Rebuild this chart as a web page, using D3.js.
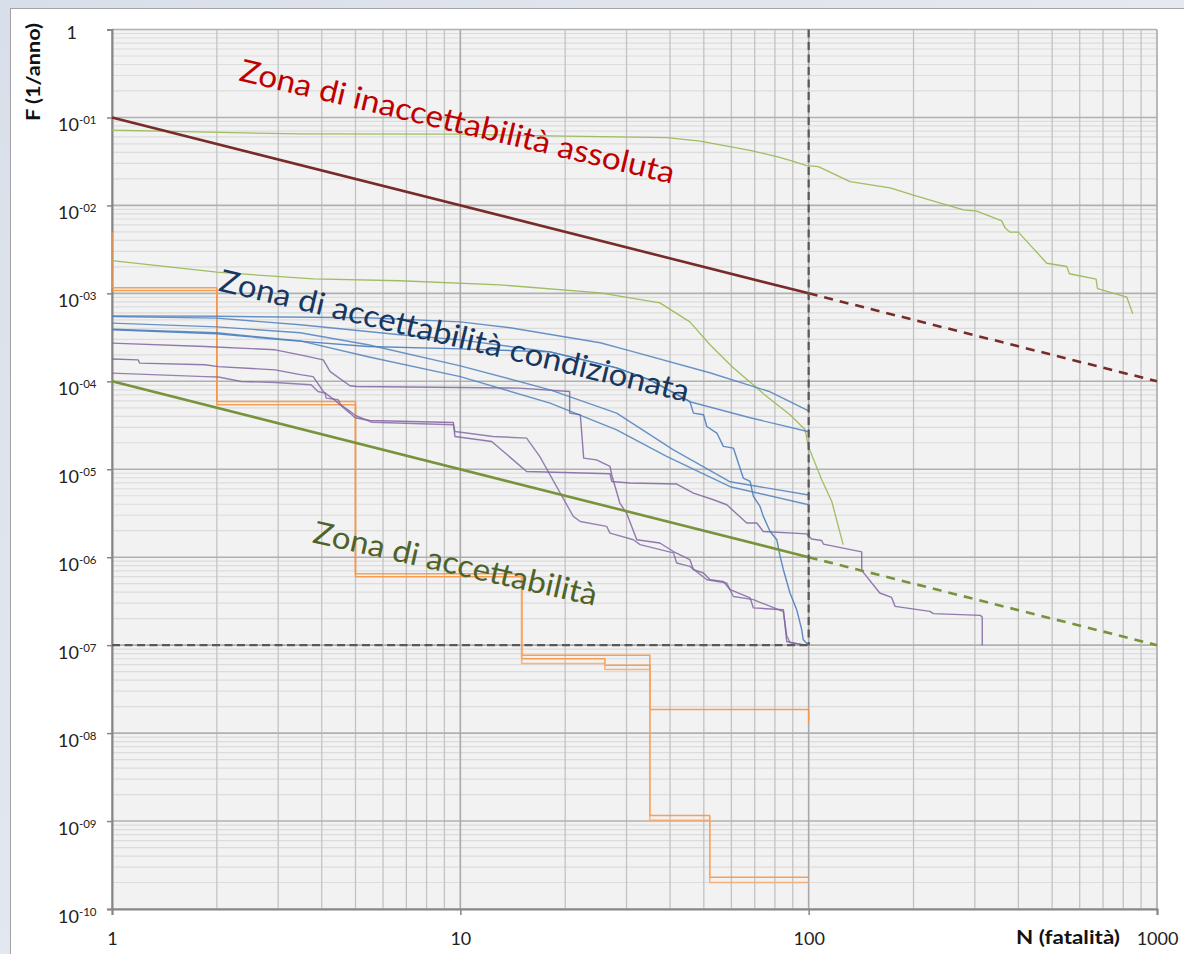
<!DOCTYPE html>
<html>
<head>
<meta charset="utf-8">
<script src="https://cdn.jsdelivr.net/npm/d3@7"></script>
<style>
  html, body { margin: 0; padding: 0; }
  body { width: 1184px; height: 954px; overflow: hidden; background: linear-gradient(135deg, #d9dfea 0%, #e6eaf1 60%, #eef0f4 100%); }
  svg { display: block; }
  text { font-family: Lato, "Open Sans", "Noto Sans", sans-serif; }
</style>
</head>
<body>
<svg id="chart" width="1184" height="954"></svg>
<script>
// ---- axis ticks ----
const nTicks = [1, 10, 100, 1000];
const nTickLabels = ["1", "10", "100", "1000"];
const fExponents = [0, -1, -2, -3, -4, -5, -6, -7, -8, -9, -10];

// ---- acceptance criteria (F-N limit lines) ----
const upperLimit = [[1, 1e-1], [100, 1e-3]];
const upperLimitExt = [[100, 1e-3], [1000, 1e-4]];
const lowerLimit = [[1, 1e-4], [100, 1e-6]];
const lowerLimitExt = [[100, 1e-6], [1000, 1e-7]];
const boundN = [[100, 1], [100, 1e-7]];
const boundF = [[1, 1e-7], [100, 1e-7]];

// ---- F-N curves: [N, F] ----
const green1 = [[1,0.0716],[3.47,0.0649],[10,0.0645],[18.1,0.0616],[39.2,0.059],[48.8,0.0537],[67.9,0.0422],[81,0.0358],[89.4,0.032],[98.7,0.0283],[106.6,0.0276],[131.5,0.01865],[171.3,0.0158],[199.8,0.01306],[278,0.0089],[303.9,0.0086],[358.4,0.00667],[366.4,0.00555],[378.7,0.00496],[400,0.00496],[482.6,0.0022],[550.8,0.00202],[560.4,0.00167],[668.6,0.00145],[674.5,0.00113],[819,9.06e-4],[852,5.85e-4]];
const green2 = [[1,2.36e-3],[2,1.74e-3],[3.78,1.46e-3],[6.71,1.39e-3],[13,1.25e-3],[25.2,1.01e-3],[37.4,7.8e-4],[45.6,4.74e-4],[52.1,2.6e-4],[60.2,1.47e-4],[75.8,6.7e-5],[88.4,4.16e-5],[97.7,2.81e-5],[99.8,1.82e-5],[109,7.6e-6],[116.5,4.3e-6],[125.6,1.39e-6]];

const blue1 = [[1,5.55e-4],[2,5.48e-4],[5.4,5.27e-4],[10,4.74e-4],[13.9,4.06e-4],[25.2,2.74e-4],[30,2.28e-4],[52,1.25e-4],[77.5,7.6e-5],[100,4.6e-5]];
const blue2 = [[1,5.45e-4],[2,5.23e-4],[3.47,4.39e-4],[6.71,3.38e-4],[10,2.96e-4],[18.1,2.16e-4],[28.1,1.42e-4],[35,1.04e-4],[45.6,5.85e-5],[67.9,3.85e-5],[100,2.67e-5]];
const blue3 = [[1,4.59e-4],[2,4.16e-4],[3.47,3.56e-4],[5.43,2.6e-4],[10,1.5e-4],[18.1,8.0e-5],[28.1,4.35e-5],[40.8,1.67e-5],[59.5,7.2e-6],[100,5.1e-6]];
const blue4 = [[1,3.92e-4],[2,3.56e-4],[3.47,2.88e-4],[5.43,1.9e-4],[10,1.13e-4],[18.1,5.65e-5],[28.1,2.81e-5],[39.1,1.4e-5],[59.5,6.33e-6],[100,3.95e-6]];
const blue5 = [[1,3.85e-4],[2,3.47e-4],[3.1,2.96e-4],[5.43,2.49e-4],[10,2.34e-4],[18.1,2.16e-4],[28.1,1.42e-4],[35,1.04e-4],[45.6,5.9e-5],[46.7,4.35e-5],[49.9,4.16e-5],[51,3.06e-5],[54.5,2.58e-5],[56.9,1.82e-5],[60.8,1.74e-5],[64.9,7.94e-6],[67.9,7.27e-6],[69.4,4.91e-6],[72.5,3.78e-6],[74.1,2.91e-6],[77.5,1.96e-6],[81,1.58e-6],[82.8,1.02e-6],[84.6,7.21e-7],[88.4,3.92e-7],[92.4,2.53e-7],[95.5,1.5e-7],[96.5,1.15e-7],[100,1e-7]];

const purple1 = [[1,2.72e-4],[1.85,2.49e-4],[2.94,2.28e-4],[3.47,2.0e-4],[4.04,1.75e-4],[4.23,1.29e-4],[4.82,8.89e-5],[5.04,8.73e-5],[14.8,8.37e-5],[20.6,7.66e-5],[20.6,4.35e-5],[22.1,4.16e-5],[22.6,1.34e-5],[24.6,1.28e-5],[26.9,1.08e-5],[27.2,8.66e-6],[28.7,4.13e-6],[30,3.18e-6],[32.1,1.58e-6],[37.4,1.45e-6],[40.9,1.16e-6],[45.6,9.37e-7],[46.7,7.21e-7],[49.9,6.61e-7],[52.1,5.55e-7],[56.9,5.31e-7],[59.5,4.27e-7],[67.9,3.44e-7],[69.4,2.65e-7],[84.6,2.53e-7],[86.5,1.1e-7],[96.5,1.0e-7]];
const purple2 = [[1,1.79e-4],[1.19,1.75e-4],[1.2,1.61e-4],[1.85,1.54e-4],[2.02,1.47e-4],[2.94,1.35e-4],[3.47,1.19e-4],[3.78,1.13e-4],[4.04,7.66e-5],[4.32,6.28e-5],[4.82,4.35e-5],[4.99,3.85e-5],[5.5,3.58e-5],[9.55,3.4e-5],[9.65,2.36e-5],[12.3,2.07e-5],[15.5,9.44e-6],[26.9,8.89e-6],[27.2,7.27e-6],[30.7,6.97e-6],[41.8,6.79e-6],[46.7,5.36e-6],[53.3,4.5e-6],[58.2,3.95e-6],[66.4,2.45e-6],[71,2.45e-6],[74.1,1.96e-6],[98.7,1.84e-6],[102,1.61e-6],[109,1.55e-6],[110.2,1.41e-6],[142,1.15e-6],[142,7.08e-7],[160,3.92e-7],[173,3.49e-7],[177,2.76e-7],[223,2.42e-7],[228,2.28e-7],[311,2.18e-7],[315,2.09e-7],[315,1e-7]];
const purple3 = [[1,1.24e-4],[1.85,1.13e-4],[2.02,1.12e-4],[2.35,9.95e-5],[2.94,9.69e-5],[3.73,9.12e-5],[3.9,7.66e-5],[4.09,7.35e-5],[4.12,6.44e-5],[4.46,6.16e-5],[4.54,5.41e-5],[4.76,4.74e-5],[5.02,4.06e-5],[5.58,3.42e-5],[9.55,3.2e-5],[9.65,2.69e-5],[12.4,2.36e-5],[15.5,2.26e-5],[16.9,1.4e-5],[21.1,2.91e-6],[22.1,2.55e-6],[26.3,2.24e-6],[26.9,1.88e-6],[31.4,1.58e-6],[32.8,1.39e-6],[40.9,1.12e-6],[41.8,8.6e-7],[45.6,7.86e-7],[51,5.55e-7],[58.2,5.09e-7],[60.8,3.58e-7],[69.4,3.29e-7],[84.6,2.4e-7],[86.5,1.28e-7],[88.4,1.07e-7],[98.7,1e-7]];

const orange1 = [[1,5e-3],[1,1.16e-3],[2,1.16e-3],[2,5.9e-5],[5,5.9e-5],[5,6.5e-7],[15,6.5e-7],[15,7.7e-8],[35,7.7e-8],[35,1.85e-8],[100,1.85e-8],[100,1.3e-8]];
const orange2 = [[1,1.08e-3],[2,1.08e-3],[2,5.4e-5],[5,5.4e-5],[5,6.0e-7],[15,6.0e-7],[15,7.0e-8],[26,7.0e-8],[26,5.9e-8],[35,5.9e-8],[35,1.16e-9],[52,1.16e-9],[52,2.3e-10],[100,2.3e-10]];
const orange3 = [[15,6.0e-7],[15,6.2e-8],[26,6.2e-8],[26,5.3e-8],[35,5.3e-8],[35,1.02e-9],[52,1.02e-9],[52,2.0e-10],[100,2.0e-10]];

// ---- zone labels: text, anchor [N, F] of baseline start ----
const zoneTexts = ["Zona di inaccettabilità assoluta", "Zona di accettabilità condizionata", "Zona di accettabilità"];
const zoneAnchors = [[2.30, 0.264], [2.01, 1.08e-3], [3.74, 1.48e-6]];

// ---- layout ----
const W = 1184, H = 954;
const plot = { left: 112, right: 1157, top: 29.5, bottom: 909 };

const svg = d3.select("#chart");

const x = d3.scaleLog().domain([1, 1000]).range([plot.left, plot.right]);
const y = d3.scaleLog().domain([1e-10, 1]).range([plot.bottom, plot.top]);

// white chart panel
svg.append("rect")
  .attr("x", 10.5).attr("y", 8.5).attr("width", W).attr("height", H)
  .attr("fill", "#ffffff").attr("stroke", "#a3a3a3").attr("stroke-width", 1);

// plot background
svg.append("rect")
  .attr("x", plot.left).attr("y", plot.top)
  .attr("width", plot.right - plot.left).attr("height", plot.bottom - plot.top)
  .attr("fill", "#f2f2f2");

const isDecade = v => Math.abs(Math.log10(v) - Math.round(Math.log10(v))) < 1e-9;

// grid
const gGrid = svg.append("g");
const yGridVals = y.ticks(30);
const xGridVals = x.ticks(30);

gGrid.selectAll("line.hminor").data(yGridVals.filter(v => !isDecade(v))).join("line")
  .attr("x1", plot.left).attr("x2", plot.right)
  .attr("y1", d => y(d)).attr("y2", d => y(d))
  .attr("stroke", "#dcdcdc").attr("stroke-width", 1.2);

gGrid.selectAll("line.vminor").data(xGridVals.filter(v => !isDecade(v))).join("line")
  .attr("x1", d => x(d)).attr("x2", d => x(d))
  .attr("y1", plot.top).attr("y2", plot.bottom)
  .attr("stroke", "#c3c3c3").attr("stroke-width", 1.3);

gGrid.selectAll("line.hmajor").data(yGridVals.filter(isDecade)).join("line")
  .attr("x1", plot.left).attr("x2", plot.right)
  .attr("y1", d => y(d)).attr("y2", d => y(d))
  .attr("stroke", "#b0b0b0").attr("stroke-width", 1.6);

gGrid.selectAll("line.vmajor").data(xGridVals.filter(isDecade)).join("line")
  .attr("x1", d => x(d)).attr("x2", d => x(d))
  .attr("y1", plot.top).attr("y2", plot.bottom)
  .attr("stroke", "#a9a9a9").attr("stroke-width", 1.6);

// axes
const fTickValues = fExponents.map(e => Math.pow(10, e));
const yAxis = d3.axisLeft(y).tickValues(fTickValues).tickSize(5).tickFormat(() => "");
const gY = svg.append("g").attr("transform", `translate(${plot.left},0)`).call(yAxis);
gY.select(".domain").attr("stroke", "#868686").attr("stroke-width", 2);
gY.selectAll(".tick line").attr("stroke", "#868686").attr("stroke-width", 1.5);
gY.selectAll(".tick text").remove();
gY.selectAll(".tick").each(function(d, i) {
  const g = d3.select(this);
  const e = fExponents[i];
  if (e === 0) {
    g.append("text").attr("x", -35).attr("y", 9).attr("text-anchor", "end")
      .attr("fill", "#222").style("font-size", "18px").text("1");
  } else {
    const t = g.append("text").attr("x", -54).attr("y", 13.5).attr("text-anchor", "start")
      .attr("fill", "#222").style("font-size", "18px");
    t.append("tspan").text("10");
    const s = "-" + String(Math.abs(e)).padStart(2, "0");
    t.append("tspan").attr("dy", -7.5).style("font-size", "11.5px").text(s);
  }
});

const xAxis = d3.axisBottom(x).tickValues(nTicks).tickSize(6).tickFormat(() => "");
const gX = svg.append("g").attr("transform", `translate(0,${plot.bottom})`).call(xAxis);
gX.select(".domain").attr("stroke", "#868686").attr("stroke-width", 2);
gX.selectAll(".tick line").attr("stroke", "#868686").attr("stroke-width", 1.5);
gX.selectAll(".tick text").remove();
gX.selectAll(".tick").append("text")
  .attr("y", 36).attr("text-anchor", "middle")
  .attr("fill", "#222").style("font-size", "18px")
  .text((d, i) => nTickLabels[i]);

// axis titles
svg.append("text")
  .attr("transform", "translate(40,72) rotate(-90)")
  .attr("text-anchor", "middle")
  .attr("textLength", 98).attr("lengthAdjust", "spacingAndGlyphs")
  .style("font-size", "18px").style("font-weight", "bold").attr("fill", "#111")
  .text("F (1/anno)");

svg.append("text")
  .attr("x", 1016).attr("y", 944)
  .attr("textLength", 104).attr("lengthAdjust", "spacingAndGlyphs")
  .style("font-size", "18px").style("font-weight", "bold").attr("fill", "#111")
  .text("N (fatalità)");

// curves
const line = d3.line().x(d => x(d[0])).y(d => y(d[1]));
const gCurves = svg.append("g").attr("fill", "none").attr("stroke-linejoin", "round");

const series = [
  { data: orange1, color: "#f79646", w: 1.5, o: 0.9 },
  { data: orange2, color: "#f79646", w: 1.5, o: 0.9 },
  { data: orange3, color: "#f9a86a", w: 1.5, o: 0.85 },
  { data: green1, color: "#9bbb59", w: 1.3, o: 0.95 },
  { data: green2, color: "#9bbb59", w: 1.3, o: 0.95 },
  { data: purple1, color: "#8064a2", w: 1.4, o: 0.85 },
  { data: purple2, color: "#8064a2", w: 1.4, o: 0.85 },
  { data: purple3, color: "#8064a2", w: 1.4, o: 0.8 },
  { data: blue1, color: "#4f81bd", w: 1.4, o: 0.85 },
  { data: blue2, color: "#4f81bd", w: 1.4, o: 0.85 },
  { data: blue3, color: "#4f81bd", w: 1.4, o: 0.85 },
  { data: blue4, color: "#4f81bd", w: 1.4, o: 0.85 },
  { data: blue5, color: "#4a7ec0", w: 1.4, o: 0.9 }
];
gCurves.selectAll("path").data(series).join("path")
  .attr("d", d => line(d.data))
  .attr("stroke", d => d.color)
  .attr("stroke-width", d => d.w)
  .attr("stroke-opacity", d => d.o);

// limit lines
const gLim = svg.append("g").attr("fill", "none");
gLim.append("path").attr("d", line(upperLimit)).attr("stroke", "#772c2a").attr("stroke-width", 2.6);
gLim.append("path").attr("d", line(upperLimitExt)).attr("stroke", "#772c2a").attr("stroke-width", 2.6).attr("stroke-dasharray", "9,7");
gLim.append("path").attr("d", line(lowerLimit)).attr("stroke", "#77933c").attr("stroke-width", 2.6);
gLim.append("path").attr("d", line(lowerLimitExt)).attr("stroke", "#77933c").attr("stroke-width", 2.6).attr("stroke-dasharray", "9,7");
gLim.append("path").attr("d", line(boundN)).attr("stroke", "#595959").attr("stroke-width", 2.2).attr("stroke-dasharray", "8,4.5");
gLim.append("path").attr("d", line(boundF)).attr("stroke", "#595959").attr("stroke-width", 2.2).attr("stroke-dasharray", "8,4.5");

// zone labels
const zoneStyle = [
  { color: "#c00000", angle: 13.4, len: 446 },
  { color: "#17375e", angle: 13.4, len: 482 },
  { color: "#4f6228", angle: 12.7, len: 290 }
];
svg.append("g").selectAll("text").data(zoneTexts).join("text")
  .attr("transform", (d, i) => `translate(${x(zoneAnchors[i][0])},${y(zoneAnchors[i][1])}) rotate(${zoneStyle[i].angle})`)
  .attr("textLength", (d, i) => zoneStyle[i].len)
  .attr("lengthAdjust", "spacingAndGlyphs")
  .attr("fill", (d, i) => zoneStyle[i].color)
  .style("font-size", "31px")
  .text(d => d);
</script>
</body>
</html>
